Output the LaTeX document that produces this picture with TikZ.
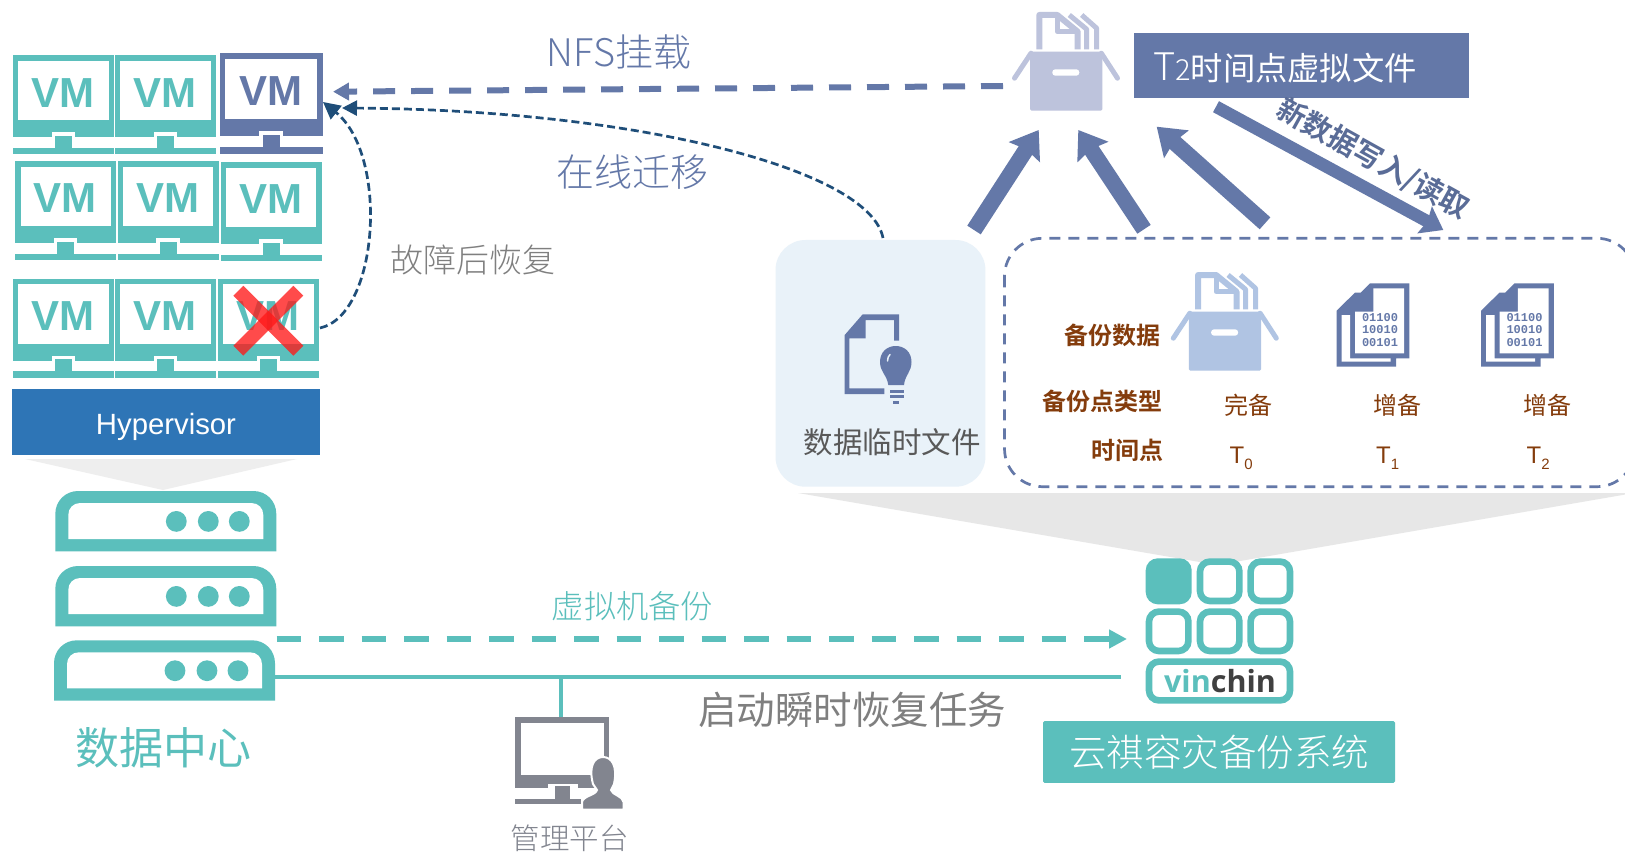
\documentclass[tikz,border=0pt]{standalone}
\usepackage{fontspec}
\setmainfont{Liberation Sans}
\newfontfamily\cjk{Noto Sans CJK SC}[UprightFont=* Light,BoldFont=* Bold]
\newfontfamily\cjkreg{Noto Sans CJK SC}
\newfontfamily\mono{Liberation Mono}
\newfontfamily\logofont{Open Sans}
\usetikzlibrary{arrows.meta}
\definecolor{teal}{HTML}{5BBFBC}
\definecolor{slateb}{HTML}{6478A8}
\definecolor{hyper}{HTML}{2E75B6}
\definecolor{navy}{HTML}{1F4E79}
\definecolor{greyt}{HTML}{7F7F7F}
\definecolor{mgr}{HTML}{82858F}
\definecolor{brownt}{HTML}{843C0C}
\definecolor{palebox}{HTML}{BDC3DC}
\definecolor{palebluebox}{HTML}{B0C4E3}
\definecolor{tempbg}{HTML}{E9F2F9}
\definecolor{shadegrey}{HTML}{E7E7E7}
\newcommand{\fsz}[1]{\fontsize{#1}{#1}\selectfont}
\newcommand{\tsub}[1]{T\raisebox{-6pt}{\fsz{15}#1}}
\tikzset{
  lab/.style={inner sep=0pt,outer sep=0pt,font=\cjk},
  vmtext/.style={inner sep=0pt,font=\bfseries\fsz{42}},
  bigarrow/.style={draw=slateb,line width=16pt,-{Stealth[length=26pt,width=36pt,inset=3pt]}},
  tlabel/.style={inner sep=0pt,text=brownt,font=\fsz{24},anchor=base west},
  cnlabel/.style={inner sep=0pt,text=brownt,font=\cjkreg\fsz{24}},
  boldlabel/.style={inner sep=0pt,text=brownt,font=\cjk\bfseries\fsz{24},anchor=east},
  bits/.style={inner sep=0pt,text=slateb,font=\mono\bfseries\fsz{12}},
}
% VM monitor icon
\newcommand{\vmicon}[5]{%
\begin{scope}[shift={(#2,#3)},scale=#5]
 \fill[#4] (0,0) rectangle (101,82);
 \fill[white] (5.3,5.7) rectangle (95.7,65);
 \fill[white] (38.7,77) rectangle (62,82);
 \fill[#4] (42,80.7) rectangle (59,93);
 \fill[#4] (0,92.7) rectangle (101,99);
 \node[vmtext,text=#4] (#1) at (50,37.5) {VM};
\end{scope}}
% server icon
\newcommand{\serverico}[3]{%
\begin{scope}[shift={(#2,#3)}]
 \fill[teal] (0,60.4) -- (0,23) .. controls (0,10) and (10,0) .. (23,0) -- (198,0) .. controls (211,0) and (221,10) .. (221,23) -- (221,60.4) -- cycle;
 \fill[white] (13,48) -- (13,24) .. controls (13,17) and (18,12) .. (25,12) -- (196,12) .. controls (203,12) and (208,17) .. (208,24) -- (208,48) -- cycle;
 \fill[teal] (121,30.4) circle[radius=10.4];
 \fill[teal] (153,30.4) circle[radius=10.4];
 \fill[teal] (184,30.4) circle[radius=10.4];
 \coordinate (#1) at (110,30);
\end{scope}}
% archive box icon
\newcommand{\boxicon}[3]{%
\begin{scope}[shift={(#1,#2)}]
 \fill[#3,rounded corners=1.5pt] (0,0) rectangle (72.3,59);
 \draw[#3,line width=5pt,line cap=round] (1,1.5) -- (-15.5,26.5);
 \draw[#3,line width=5pt,line cap=round] (71.3,1.5) -- (87.5,26.5);
 \fill[white,rounded corners=3pt] (22.3,17.6) rectangle (49.3,24);
 \draw[#3,line width=6pt,line join=round] (9.3,-2.4) -- (9.3,-36.7) -- (27.3,-36.7) -- (47.7,-20) -- (47.7,-2.4);
 \draw[#3,line width=5pt,line join=round] (27.3,-36.7) -- (27.3,-20) -- (47.7,-20);
 \draw[#3,line width=5pt,line join=round] (39.3,-36.7) -- (56.7,-22.4) -- (56.7,-2.4);
 \draw[#3,line width=5pt,line join=round] (51.7,-36.7) -- (66.7,-23.4) -- (66.7,-2.4);
\end{scope}}
% binary documents icon
\newcommand{\docicon}[2]{%
\begin{scope}[shift={(#1,#2)}]
 \fill[slateb] (0.7,27.3) -- (19,9.3) -- (24.7,9.3) -- (34,0) -- (73.3,0) -- (73.3,75) -- (60,75) -- (60,83.3) -- (0.7,83.3) -- cycle;
 \fill[white] (37.3,5) -- (68,5) -- (68,70) -- (19,70) -- (19,28.3) -- (37.3,28.3) -- cycle;
 \fill[white] (5.7,31.7) -- (14,31.7) -- (14,75) -- (54.7,75) -- (54.7,78.3) -- (5.7,78.3) -- cycle;
 \node[bits] at (44,33.9) {01100};
 \node[bits] at (44,46.2) {10010};
 \node[bits] at (44,58.9) {00101};
\end{scope}}
\begin{document}
\begin{tikzpicture}[x=1pt,y=-1pt]
\useasboundingbox (0,0) rectangle (1625,853);
\fill[white] (0,0) rectangle (1625,853);
% grey shades
\fill[shadegrey!70!white] (25,459) -- (297,459) -- (163,490) -- cycle;
\fill[shadegrey] (798,493) -- (1634,493) -- (1217,565) -- cycle;
% VM grid
\vmicon{vma}{13}{55.3}{teal}{1}
\vmicon{vmb}{115}{55.3}{teal}{1}
\vmicon{vmc}{220}{53}{slateb}{1.017}
\vmicon{vmd}{15.4}{161}{teal}{1}
\vmicon{vme}{117.6}{161}{teal}{1}
\vmicon{vmf}{220.6}{162}{teal}{1}
\vmicon{vmg}{13}{278.7}{teal}{1}
\vmicon{vmh}{115}{278.7}{teal}{1}
\vmicon{vmi}{218}{278.7}{teal}{1}
% failed VM cross
\draw[red!90!white,opacity=.78,line width=14pt] (238.3,290.7) -- (298.3,350.7);
\draw[red!90!white,opacity=.78,line width=14pt] (298.3,290.7) -- (238.3,350.7);
% hypervisor
\node[fill=hyper,minimum width=308pt,minimum height=66pt,inner sep=0pt] (hyp) at (166,422) {};
\node[inner sep=0pt,text=white,font=\fsz{29.3}] (hypt) at (166,426.5) {Hypervisor};
% servers
\serverico{srva}{55.3}{491}
\serverico{srvb}{55.3}{566}
\serverico{srvc}{54}{640.3}
\node[lab,text=teal,font=\cjkreg\fsz{44}] (dc) at (163.5,748) {数据中心};
% manager
\coordinate (mgrtop) at (560.6,717.3);
\coordinate (busa) at (275,677.3);
\coordinate (busb) at (1121,677.3);
\coordinate (busj) at (560.6,677.3);
\draw[teal,line width=4pt] (busa) -- (busb);
\draw[teal,line width=4pt] (busj) -- (mgrtop);
\fill[mgr] (515,717) rectangle (609,788);
\fill[white] (520.6,722.7) rectangle (603.5,775);
\fill[white] (548,784) rectangle (578,788);
\fill[mgr] (554.5,786) rectangle (569.6,800);
\fill[mgr] (515,799.3) rectangle (581,804);
\fill[mgr,draw=white,line width=2pt] (582,809.5) -- (582,802) .. controls (583,796) and (596,795) .. (597,790) -- (593,784) .. controls (588,765) and (595,757) .. (603,757) .. controls (611,757) and (618,765) .. (614,784) -- (611,790) .. controls (612,795) and (623,796) .. (623.5,802) -- (623.5,809.5) -- cycle;
\node[lab,text=mgr,font=\cjk\fsz{29.5}] (mgrl) at (569.5,838) {管理平台};
% backup link
\coordinate (bka) at (276.5,639);
\coordinate (bkb) at (1127,639);
\draw[teal,line width=6pt,dash pattern=on 24.5pt off 18pt,-{Triangle[length=18pt,width=18pt]}] (bka) -- (bkb);
\node[lab,text=teal,font=\cjk\fsz{32.3}] (l1) at (632.5,606) {虚拟机备份};
\node[lab,text=greyt,font=\cjkreg\fsz{38.5}] (l2) at (852,710) {启动瞬时恢复任务};
% vinchin logo
\tikzset{cellbox/.style={draw=teal,line width=6.6pt,rounded corners=10pt}}
\fill[teal,rounded corners=12pt] (1145.7,558.3) rectangle (1191.7,604.3);
\draw[cellbox] (1200,561.6) rectangle (1239.4,601);
\draw[cellbox] (1250.6,561.6) rectangle (1290,601);
\draw[cellbox] (1149,611.6) rectangle (1188.4,651);
\draw[cellbox] (1200,611.6) rectangle (1239.4,651);
\draw[cellbox] (1250.6,611.6) rectangle (1290,651);
\draw[cellbox] (1149,661.6) rectangle (1290,700.4);
\node[inner sep=0pt,anchor=base,font=\logofont\bfseries\fsz{30.5}] (logo) at (1220,692.5) {\textcolor{teal}{vin}\textcolor{black!75}{chin}};
\node[fill=teal,rounded corners=1.5pt,minimum width=352pt,minimum height=61.6pt,inner sep=0pt,text=white,font=\cjk\fsz{37.5}] (sys) at (1219,752) {云祺容灾备份系统};
% temp file panel
\fill[tempbg,rounded corners=30pt] (775.5,240) rectangle (985.4,486.7);
\fill[slateb] (844.7,335) -- (862.7,314.3) -- (899,314.3) -- (899,340.7) -- (894,340.7) -- (894,320) -- (865.7,320) -- (865.7,338.3) -- (849.3,338.3) -- (849.3,388.3) -- (884.3,388.3) -- (884.3,394) -- (844.7,394) -- cycle;
\fill[slateb] (888.3,385) .. controls (887,375) and (880,372) .. (880,362) .. controls (880,352) and (887,346) .. (895.7,346) .. controls (904.5,346) and (911.5,352) .. (911.5,362) .. controls (911.5,372) and (905,375) .. (904,385) -- cycle;
\draw[tempbg,line width=1.5pt,line cap=round] (887.5,361) .. controls (887.5,358) and (888.5,356) .. (890,354.5);
\fill[slateb] (889.5,390) rectangle (903.5,393.3);
\fill[slateb] (889.5,395) rectangle (903.5,398.3);
\fill[slateb] (892.7,401.2) rectangle (899.3,404);
\node[lab,text=black!65,font=\cjkreg\fsz{29.5}] (tmp) at (892,442) {数据临时文件};
% backups panel
\draw[slateb,line width=2.7pt,dash pattern=on 11pt off 8pt,rounded corners=38pt] (1004.5,238.3) rectangle (1635,486.7);
\node[boldlabel] (r1) at (1160.5,335.7) {备份数据};
\node[boldlabel] (r2) at (1162.5,401.7) {备份点类型};
\node[boldlabel] (r3) at (1163.5,450) {时间点};
\boxicon{1188.8}{311.7}{palebluebox}
\docicon{1336}{283.3}
\docicon{1480.5}{283.3}
\node[cnlabel] (c1) at (1248.5,405.7) {完备};
\node[cnlabel] (c2) at (1397,405.7) {增备};
\node[cnlabel] (c3) at (1547,405.7) {增备};
\node[tlabel] (t0) at (1229.5,463) {\tsub{0}};
\node[tlabel] (t1) at (1376,463) {\tsub{1}};
\node[tlabel] (t2) at (1526.5,463) {\tsub{2}};
% top box and title
\boxicon{1030}{51.7}{palebox}
\node[fill=slateb,minimum width=335pt,minimum height=64.7pt,inner sep=0pt] (title) at (1301.5,65.3) {};
\node[lab,anchor=west,text=white] (titlet) at (1153,68) {{\fsz{38}T}{\fsz{29}2}{\cjkreg\fsz{32.3}时间点虚拟文件}};
% big arrows
\coordinate (a1s) at (974,230); \coordinate (a1e) at (1038.7,130);
\coordinate (a2s) at (1144,229.3); \coordinate (a2e) at (1078.3,130);
\coordinate (a3s) at (1265,223.3); \coordinate (a3e) at (1156.7,126.7);
\coordinate (a4s) at (1216,106.7); \coordinate (a4e) at (1443.3,230);
\draw[bigarrow] (a1s) -- (a1e);
\draw[bigarrow] (a2s) -- (a2e);
\draw[bigarrow] (a3s) -- (a3e);
\draw[draw=slateb,line width=12.5pt,-{Stealth[length=21pt,width=30pt,inset=3pt]}] (a4s) -- (a4e);
\node[lab,rotate=-29,text=slateb!90!black,font=\cjk\bfseries\fsz{29}] (newd) at (1373,159) {新数据写入/读取};
% NFS mount
\coordinate (nfss) at (1003,86);
\coordinate (nfse) at (333,91.7);
\draw[slateb,line width=6pt,dash pattern=on 22pt off 16pt,-{Triangle[length=16pt,width=17pt]}] (nfss) -- (nfse);
\node[lab,text=slateb,font=\cjk\fsz{38}] (l3) at (619,52) {NFS挂载};
% live migration
\coordinate (migs) at (883,238);
\coordinate (mige) at (342,108);
\draw[navy,line width=2.7pt,dash pattern=on 8pt off 4pt,-{Triangle[length=15pt,width=15pt]}] (migs) .. controls (870,170) and (640,110) .. (mige);
\node[lab,text=slateb,font=\cjk\fsz{38}] (l4) at (632,172) {在线迁移};
% recovery
\coordinate (recs) at (320,328);
\coordinate (rece) at (323,102);
\draw[navy,line width=2.7pt,dash pattern=on 8pt off 4pt,-{Triangle[length=17pt,width=17pt]}] (recs) .. controls (379,315) and (389,155) .. (rece);
\node[lab,text=greyt,font=\cjk\fsz{33}] (l5) at (473,260) {故障后恢复};
\end{tikzpicture}
\end{document}
